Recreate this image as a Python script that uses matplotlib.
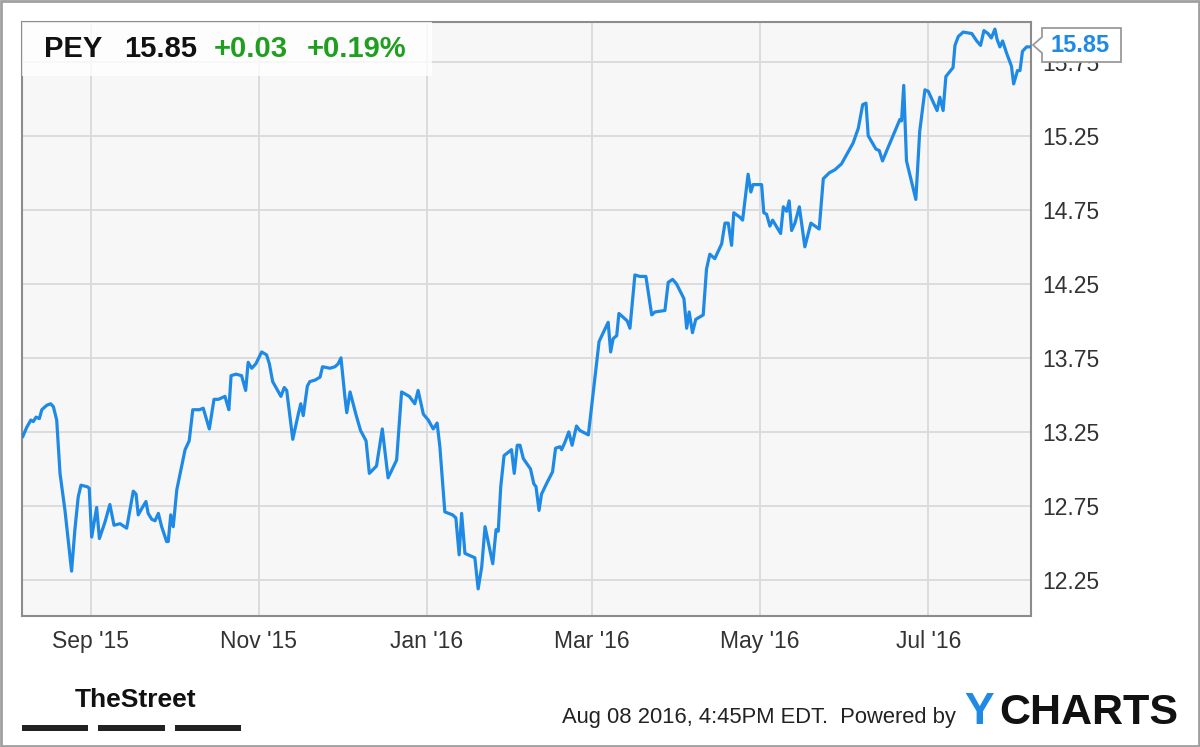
import datetime as dt
import matplotlib
matplotlib.use("Agg")
import matplotlib.pyplot as plt
import matplotlib.dates as mdates
from matplotlib.patches import Polygon, Rectangle
import numpy as np

plt.rcParams['font.family'] = ['Liberation Sans', 'DejaVu Sans']

# PEY daily close (days counted from 2015-08-07)
start = dt.datetime(2015, 8, 7)
days = [0.3, 1.7, 3.2, 4.1, 5.1, 6.3, 7.2, 9.0, 10.4, 11.4, 12.6, 13.8, 15.6, 18.0,
        19.2, 20.4, 21.4, 23.7, 24.4, 25.3, 26.1, 27.1, 28.1, 30.1, 31.9, 33.4, 35.6,
        38.0, 40.4, 41.4, 42.2, 43.4, 45.0, 45.8, 47.1, 48.3, 49.5, 50.7, 52.5, 53.1,
        54.0, 54.9, 56.2, 59.2, 60.7, 62.0, 64.4, 65.8, 68.0, 69.7, 71.3, 73.7, 74.3,
        75.1, 75.9, 77.7, 79.7, 81.2, 82.1, 83.4, 84.9, 87.0, 88.8, 89.8, 91.0, 92.5,
        94.0, 95.2, 96.1, 98.3, 100.3, 101.2, 102.1, 103.6, 104.5, 106.4, 108.2, 109.1,
        111.8, 113.6, 114.8, 115.8, 117.2, 117.9, 119.1, 121.2, 122.9, 124.9, 126.1,
        128.7, 130.8, 132.9, 136.0, 137.8, 140.6, 142.6, 143.8, 145.7, 147.5, 149.3,
        150.7, 151.7, 153.5, 156.3, 157.5, 158.7, 159.6, 160.8, 164.4, 165.6, 166.9,
        168.1, 170.9, 172.1, 172.9, 173.8, 175.0, 177.7, 178.7, 179.8, 180.8, 182.0,
        184.6, 185.8, 186.6, 187.7, 188.6, 190.4, 192.6, 193.7, 195.3, 195.9, 197.1,
        198.5, 199.7, 201.3, 202.5, 205.6, 209.5, 211.0, 212.8, 213.7, 214.6, 215.9,
        216.7, 219.7, 220.7, 222.5, 224.3, 226.5, 228.6, 229.8, 233.4, 234.6, 236.2,
        237.6, 240.3, 241.3, 242.2, 243.4, 244.6, 247.3, 248.5, 249.7, 251.5, 254.0,
        255.2, 256.4, 257.6, 258.4, 260.6, 261.6, 263.6, 264.6, 265.4, 268.5, 269.3,
        270.3, 271.5, 272.5, 275.4, 276.4, 277.6, 278.5, 279.4, 280.6, 282.2, 284.2,
        286.4, 289.4, 290.9, 293.1, 295.1, 297.5, 299.9, 301.7, 303.6, 305.2, 306.4,
        307.2, 310.0, 311.2, 312.4, 314.4, 316.9, 318.7, 319.3, 320.1, 321.1, 324.5,
        325.9, 327.8, 329.0, 332.2, 333.2, 334.4, 335.4, 338.0, 338.7, 339.9, 341.7,
        344.8, 346.6, 348.0, 349.2, 350.7, 351.9, 353.2, 354.0, 355.0, 356.0, 357.4,
        359.2, 360.0, 361.4, 362.3, 363.2, 364.7, 366.2]
prices = [13.22, 13.28, 13.33, 13.32, 13.35, 13.34, 13.40, 13.43, 13.44, 13.42, 13.33,
          12.97, 12.72, 12.31, 12.59, 12.81, 12.89, 12.88, 12.87, 12.54, 12.63, 12.74,
          12.53, 12.64, 12.76, 12.62, 12.63, 12.60, 12.85, 12.83, 12.69, 12.73, 12.78,
          12.70, 12.66, 12.65, 12.70, 12.61, 12.51, 12.51, 12.69, 12.61, 12.86, 13.13,
          13.19, 13.40, 13.40, 13.41, 13.27, 13.47, 13.47, 13.49, 13.45, 13.40, 13.63,
          13.64, 13.63, 13.53, 13.72, 13.68, 13.71, 13.79, 13.77, 13.71, 13.59, 13.54,
          13.49, 13.55, 13.53, 13.20, 13.37, 13.44, 13.36, 13.56, 13.59, 13.60, 13.62,
          13.69, 13.68, 13.69, 13.71, 13.75, 13.49, 13.38, 13.52, 13.37, 13.26, 13.19,
          12.97, 13.02, 13.27, 12.94, 13.06, 13.52, 13.49, 13.44, 13.53, 13.37, 13.33,
          13.27, 13.31, 13.15, 12.71, 12.69, 12.67, 12.42, 12.70, 12.43, 12.40, 12.19,
          12.34, 12.61, 12.36, 12.59, 12.58, 12.88, 13.09, 13.13, 12.97, 13.16, 13.16,
          13.07, 13.00, 12.90, 12.88, 12.72, 12.83, 12.90, 12.98, 13.14, 13.15, 13.13,
          13.18, 13.25, 13.16, 13.29, 13.26, 13.23, 13.86, 13.92, 13.99, 13.79, 13.88,
          13.90, 14.05, 14.00, 13.95, 14.31, 14.30, 14.30, 14.04, 14.06, 14.07, 14.26,
          14.28, 14.25, 14.15, 13.95, 14.06, 13.92, 14.01, 14.04, 14.35, 14.45, 14.42,
          14.52, 14.66, 14.66, 14.51, 14.73, 14.70, 14.68, 14.99, 14.87, 14.92, 14.92,
          14.73, 14.72, 14.64, 14.68, 14.59, 14.77, 14.74, 14.81, 14.61, 14.66, 14.77,
          14.50, 14.66, 14.62, 14.96, 15.00, 15.02, 15.06, 15.14, 15.20, 15.30, 15.46,
          15.47, 15.25, 15.16, 15.15, 15.08, 15.17, 15.28, 15.36, 15.35, 15.59, 15.08,
          14.82, 15.28, 15.56, 15.55, 15.42, 15.51, 15.42, 15.65, 15.71, 15.86, 15.92,
          15.95, 15.94, 15.89, 15.86, 15.96, 15.94, 15.91, 15.97, 15.90, 15.85, 15.89,
          15.81, 15.72, 15.60, 15.69, 15.69, 15.82, 15.85, 15.85]

yticks = [12.25, 12.75, 13.25, 13.75, 14.25, 14.75, 15.25, 15.75]
month_ticks = ['2015-09-01', '2015-11-01', '2016-01-01', '2016-03-01', '2016-05-01', '2016-07-01']
month_labels = ["Sep '15", "Nov '15", "Jan '16", "Mar '16", "May '16", "Jul '16"]

W, H = 1200, 747
line_col = '#1e8ae6'
green = '#1f9e1f'

dates = [start + dt.timedelta(days=d) for d in days]

fig = plt.figure(figsize=(W / 100, H / 100), dpi=100)
ax = fig.add_axes([22 / W, 1 - 616 / H, (1031 - 22) / W, (616 - 22) / H])
ax.set_facecolor('#f7f7f7')
ax.plot(dates, prices, color=line_col, lw=2.3, solid_joinstyle='round', zorder=3)

ax.set_xlim(start, start + dt.timedelta(days=366.3))
ax.set_ylim(12.007, 16.018)
ax.set_xticks([mdates.datestr2num(s) for s in month_ticks])
ax.set_xticklabels(month_labels)
ax.set_yticks(yticks)
ax.set_yticklabels(['%.2f' % t for t in yticks])
ax.yaxis.tick_right()
ax.tick_params(length=0, labelsize=16.5, labelcolor='#333333', pad=8)
ax.tick_params(axis='x', pad=10)
ax.grid(True, color='#dadada', lw=1.3)
ax.set_axisbelow(True)
for s in ax.spines.values():
    s.set_color('#8c8c8c')
    s.set_linewidth(1.5)

# header box
fig.patches.append(Rectangle((22 / W, 1 - 76 / H), (432 - 22) / W, (76 - 22) / H,
                             transform=fig.transFigure, facecolor='white', alpha=0.8,
                             edgecolor='none', zorder=5))
fy = 1 - 49 / H
fig.text(44 / W, fy, 'PEY', fontsize=21, fontweight='bold', color='#111111', va='center', zorder=6)
fig.text(124 / W, fy, '15.85', fontsize=21, fontweight='bold', color='#111111', va='center', zorder=6)
fig.text(214 / W, fy, '+0.03', fontsize=21, fontweight='bold', color=green, va='center', zorder=6)
fig.text(307 / W, fy, '+0.19%', fontsize=21, fontweight='bold', color=green, va='center', zorder=6)

# last price callout
px = [1033, 1042, 1042, 1121, 1121, 1042, 1042]
py = [45, 37, 28, 28, 62, 62, 53]
fig.patches.append(Polygon(list(zip(np.array(px) / W, 1 - np.array(py) / H)), closed=True,
                           transform=fig.transFigure, facecolor='white',
                           edgecolor='#9a9a9a', lw=1.3, zorder=5))
fig.text(1080 / W, 1 - 46 / H, '15.85', fontsize=17, fontweight='bold', color=line_col,
         ha='center', va='center', zorder=6)

# footer
fig.text(75 / W, 1 - 700 / H, 'TheStreet', fontsize=19, fontweight='bold', color='#111111',
         va='center', family=['Liberation Sans Narrow', 'Liberation Sans'], fontstretch='condensed')
for x0, x1 in [(22, 88), (98, 165), (175, 241)]:
    fig.patches.append(Rectangle((x0 / W, 1 - 731 / H), (x1 - x0) / W, 6 / H,
                                 transform=fig.transFigure, facecolor='#222222', edgecolor='none'))
fig.text(562 / W, 1 - 718 / H, 'Aug 08 2016, 4:45PM EDT.  Powered by', fontsize=15.8,
         color='#222222', va='center', family=['Liberation Sans Narrow', 'Liberation Sans'])
fig.text(964 / W, 1 - 713 / H, 'Y', fontsize=32, fontweight='bold', color='#1e8ae6', va='center')
fig.text(999 / W, 1 - 713 / H, 'CHARTS', fontsize=31, fontweight='bold', color='#111111', va='center')

# outer border
fig.patches.append(Rectangle((1 / W, 1 / H), (W - 2) / W, (H - 2) / H, transform=fig.transFigure,
                             facecolor='none', edgecolor='#a0a0a0', lw=2))

fig.savefig('out.png', dpi=100)
